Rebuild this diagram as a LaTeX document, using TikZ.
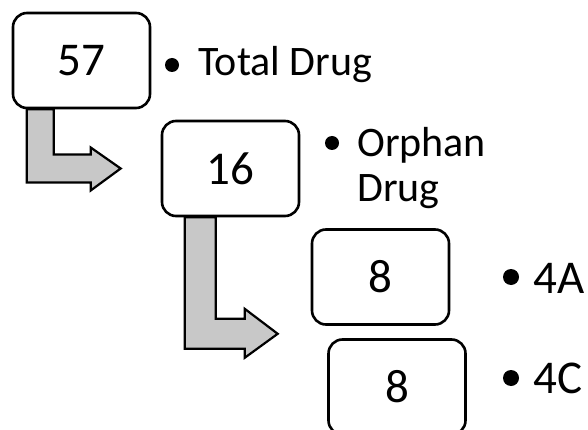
\documentclass[tikz,border=0pt]{standalone}
\usepackage{fontspec}
\setmainfont{Carlito}
\usetikzlibrary{calc}
\definecolor{arrowgray}{RGB}{200,200,200}
\begin{document}
\begin{tikzpicture}[x=1pt,y=-1pt,
  numbox/.style={draw=black, line width=2.6pt, rounded corners=14pt,
    minimum width=137pt, minimum height=95pt, inner sep=0pt, fill=white,
    font=\fontsize{47}{50}\selectfont},
  bentarrow/.style={draw=black, line width=2.2pt, fill=arrowgray, line join=miter},
  itemtext/.style={anchor=base west, inner sep=0pt, align=left,
    font=\fontsize{42}{44}\selectfont},
  bigitem/.style={itemtext, font=\fontsize{47}{50}\selectfont},
  bulletdot/.style={circle, fill=black, inner sep=0pt, minimum size=14pt},
  bigdot/.style={bulletdot, minimum size=16pt}
]
\useasboundingbox (0,0) rectangle (588,430);
\clip (0,0) rectangle (588,430);

% number boxes
\node[numbox] (b57) at (81.5,60.5) {57};
\node[numbox] (b16) at (230.5,168.5) {16};
\node[numbox] (b8a) at (380.5,277) {8};
\node[numbox] (b8b) at (397,387) {8};

% bullet labels
\node[bulletdot] (d1) at (172,65) {};
\node[itemtext] (t1) at (198,76) {Total Drug};
\node[bulletdot] (d2) at (332,143) {};
\node[itemtext] (t2) at (357,201) {Orphan\\Drug};
\node[bigdot] (d3) at (511,277) {};
\node[bigitem] (t3) at (533,293) {4A};
\node[bigdot] (d4) at (511,378) {};
\node[bigitem] (t4) at (533,393) {4C};

% bent arrow from 57 to 16
\coordinate (s1l) at ($(b57.south west)+(15,0)$);
\coordinate (s1r) at ($(b57.south west)+(42,0)$);
\coordinate (tip1) at ($(b16.west)+(-40,0)$);
\coordinate (hb1) at ($(b16.west)+(-70,0)$);
\draw[bentarrow] let \p1=(s1l), \p2=(s1r), \p3=(tip1), \p4=(hb1) in
  (\x1,\y1) -- (\x2,\y1) -- (\x2,\y3+14pt) -- (\x4,\y3+14pt) -- (\x4,\y3+21pt)
  -- (\x3,\y3) -- (\x4,\y3-22pt) -- (\x4,\y3-14pt) -- (\x1,\y3-14pt) -- cycle;

% bent arrow from 16 towards the two 8 boxes
\coordinate (s2l) at ($(b16.south west)+(24,0)$);
\coordinate (s2r) at ($(b16.south west)+(55,0)$);
\coordinate (tip2) at ($(b8a.south west)+(-33,8)$);
\coordinate (hb2) at ($(tip2)+(-33,0)$);
\draw[bentarrow] let \p1=(s2l), \p2=(s2r), \p3=(tip2), \p4=(hb2) in
  (\x1,\y1) -- (\x2,\y1) -- (\x2,\y3+15pt) -- (\x4,\y3+15pt) -- (\x4,\y3+25pt)
  -- (\x3,\y3) -- (\x4,\y3-24pt) -- (\x4,\y3-15pt) -- (\x1,\y3-15pt) -- cycle;
\end{tikzpicture}
\end{document}
